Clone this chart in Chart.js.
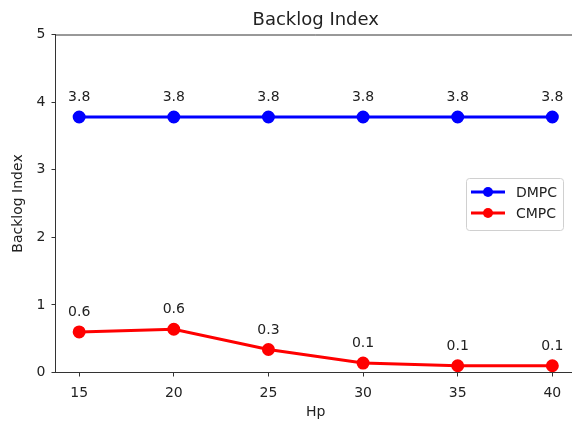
<!DOCTYPE html>
<html>
<head>
<meta charset="utf-8">
<script src="https://cdn.jsdelivr.net/npm/chart.js@4"></script>
<style>
html, body { margin: 0; padding: 0; overflow: hidden; background: #fff; }
</style>
</head>
<body>
<canvas id="backlogChart" width="584" height="424"></canvas>
<script>
var hp = [15, 20, 25, 30, 35, 40];
var dmpc = [3.78, 3.78, 3.78, 3.78, 3.78, 3.78];
var cmpc = [0.6, 0.64, 0.34, 0.14, 0.1, 0.1];
var yTicks = [0, 1, 2, 3, 4, 5];

var FONT = "'DejaVu Sans', sans-serif";
var TEXT = '#222';
var AXIS = '#333';

function points(values) {
    return hp.map(function (x, i) { return { x: x, y: values[i] }; });
}

// value labels above each marker
var valueLabels = {
    id: 'valueLabels',
    afterDatasetsDraw: function (chart) {
        var ctx = chart.ctx;
        ctx.save();
        ctx.font = '14px ' + FONT;
        ctx.fillStyle = TEXT;
        ctx.textAlign = 'center';
        ctx.textBaseline = 'alphabetic';
        chart.data.datasets.forEach(function (ds, d) {
            chart.getDatasetMeta(d).data.forEach(function (pt, i) {
                ctx.fillText(ds.data[i].y.toFixed(1), pt.x, pt.y - 16);
            });
        });
        ctx.restore();
    }
};

// title, top spine and matplotlib-like legend box
var frame = {
    id: 'frame',
    afterDraw: function (chart) {
        var ctx = chart.ctx;
        var a = chart.chartArea;
        ctx.save();
        ctx.strokeStyle = AXIS;
        ctx.lineWidth = 1;
        ctx.beginPath();
        ctx.moveTo(a.left, a.top + 0.5);
        ctx.lineTo(a.right, a.top + 0.5);
        ctx.stroke();

        ctx.fillStyle = TEXT;
        ctx.font = '18px ' + FONT;
        ctx.textAlign = 'center';
        ctx.textBaseline = 'middle';
        ctx.fillText('Backlog Index', (a.left + a.right) / 2, 20);

        // legend
        var bx = 466.5, by = 178.5, bw = 97, bh = 52;
        ctx.beginPath();
        ctx.roundRect(bx, by, bw, bh, 3);
        ctx.fillStyle = 'rgba(255,255,255,0.8)';
        ctx.fill();
        ctx.strokeStyle = '#d0d0d0';
        ctx.stroke();
        ctx.font = '14px ' + FONT;
        ctx.textAlign = 'left';
        chart.data.datasets.forEach(function (ds, i) {
            var y = 192 + i * 21;
            ctx.strokeStyle = ds.borderColor;
            ctx.lineWidth = 3;
            ctx.beginPath();
            ctx.moveTo(471, y);
            ctx.lineTo(505, y);
            ctx.stroke();
            ctx.fillStyle = ds.borderColor;
            ctx.beginPath();
            ctx.arc(488, y, 5, 0, Math.PI * 2);
            ctx.fill();
            ctx.fillStyle = TEXT;
            ctx.fillText(ds.label, 516, y + 1);
        });
        ctx.restore();
    }
};

var ctx = document.getElementById('backlogChart').getContext('2d');
var chart = new Chart(ctx, {
    type: 'line',
    data: {
        datasets: [{
            label: 'DMPC',
            data: points(dmpc),
            borderColor: '#0000ff',
            backgroundColor: '#0000ff',
            borderWidth: 3,
            pointRadius: 5,
            pointHoverRadius: 5,
            tension: 0
        }, {
            label: 'CMPC',
            data: points(cmpc),
            borderColor: '#ff0000',
            backgroundColor: '#ff0000',
            borderWidth: 3,
            pointRadius: 5,
            pointHoverRadius: 5,
            tension: 0
        }]
    },
    options: {
        responsive: false,
        animation: false,
        layout: { padding: { top: 34.5, left: 0, right: 0, bottom: 0 } },
        plugins: {
            legend: { display: false },
            tooltip: { enabled: false }
        },
        scales: {
            x: {
                type: 'linear',
                min: 13.75,
                max: 41.25,
                afterBuildTicks: function (scale) {
                    scale.ticks = hp.map(function (v) { return { value: v }; });
                },
                afterFit: function (scale) { scale.height = 51.5; },
                grid: { drawOnChartArea: false, tickLength: 4, color: AXIS },
                border: { color: AXIS, width: 1 },
                ticks: { font: { family: FONT, size: 14 }, color: TEXT, padding: 8, maxRotation: 0 },
                title: { display: true, text: 'Hp', font: { family: FONT, size: 14 }, color: TEXT, padding: { top: 0, bottom: 3 } }
            },
            y: {
                min: 0,
                max: 5,
                afterBuildTicks: function (scale) {
                    scale.ticks = yTicks.map(function (v) { return { value: v }; });
                },
                afterFit: function (scale) { scale.width = 55.5; },
                grid: { drawOnChartArea: false, tickLength: 4, color: AXIS },
                border: { color: AXIS, width: 1 },
                ticks: { font: { family: FONT, size: 14 }, color: TEXT, padding: 6 },
                title: { display: true, text: 'Backlog Index', font: { family: FONT, size: 14 }, color: TEXT, padding: { top: 10, bottom: 0 } }
            }
        }
    },
    plugins: [valueLabels, frame]
});
</script>
</body>
</html>
